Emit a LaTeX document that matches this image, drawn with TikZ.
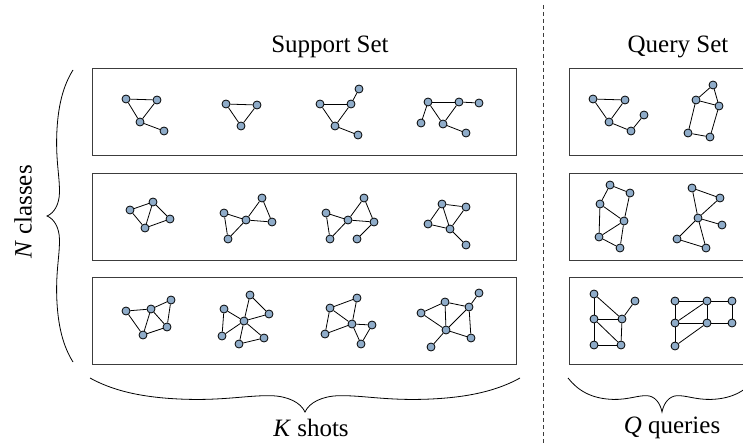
\documentclass[tikz,border=0pt]{standalone}
\usepackage{fontspec}
\setmainfont{Liberation Serif}
\usetikzlibrary{positioning}

\definecolor{vertexblue}{RGB}{143,172,201}
\definecolor{boxgray}{RGB}{60,60,60}

% one curly brace, from (0,0) to (1,0), tip at (0.5,1)
\newcommand{\bracecurve}{(0,0)
    .. controls (0.05,0.35) and (0.12,0.61) .. (0.24,0.63)
    .. controls (0.32,0.64) and (0.37,0.51) .. (0.42,0.52)
    .. controls (0.46,0.53) and (0.49,0.72) .. (0.5,1)
    .. controls (0.51,0.72) and (0.54,0.53) .. (0.58,0.52)
    .. controls (0.63,0.51) and (0.68,0.64) .. (0.76,0.63)
    .. controls (0.88,0.61) and (0.95,0.35) .. (1,0)}

\begin{document}
\begin{tikzpicture}[
    x=1pt, y=-1pt,
    vertex/.style={
        circle, draw=black, fill=vertexblue, line width=0.8pt,
        inner sep=0pt, minimum size=8pt
    },
    edge/.style={black, line width=0.8pt},
    classbox/.style={draw=boxgray, line width=0.9pt},
    caption/.style={font=\fontsize{25}{29}\selectfont, inner sep=0pt},
    bracestroke/.style={black, line width=0.8pt}
    ]
    \useasboundingbox (0,0) rectangle (743,446);
    \clip (0,0) rectangle (743,446);

    % titles
    \node[caption] (support) at (330,47) {Support Set};
    \node[caption] (query) at (678,47) {Query Set};
    \node[caption, rotate=90] (classes) at (23,212) {\textit{N} classes};
    \node[caption] (shots) at (311,428) {\textit{K} shots};
    \node[caption] (queries) at (672,428) {\textit{Q} queries};

    % class boxes
    \foreach \t/\b in {68/155, 173/260, 277/364} {
        \draw[classbox] (92,\t) rectangle (516,\b);
        \draw[classbox] (569,\t) rectangle (756,\b);
    }

    % divider
    \coordinate (divtop) at (543,5);
    \coordinate (divbot) at (543,446);
    \draw[boxgray, line width=0.7pt, dash pattern=on 4pt off 3pt] (divtop) -- (divbot);

    % braces
    \draw[bracestroke, shift={(73,70)}, x={(0pt,-292pt)}, y={(-26pt,0pt)}] \bracecurve;
    \draw[bracestroke, shift={(90,378)}, x={(430pt,0pt)}, y={(0pt,-34pt)}] \bracecurve;
    \draw[bracestroke, shift={(568,378)}, x={(188pt,0pt)}, y={(0pt,-34pt)}] \bracecurve;

    % support set, row 1
    \foreach \n/\x/\y in {a/126/99, b/157/100, c/140/122, d/164/131}
        \node[vertex] (g11\n) at (\x,\y) {};
    \foreach \u/\v in {a/b, a/c, b/c, c/d}
        \draw[edge] (g11\u) -- (g11\v);
    \foreach \n/\x/\y in {a/226/104, b/257/105, c/241/126}
        \node[vertex] (g12\n) at (\x,\y) {};
    \foreach \u/\v in {a/b, a/c, b/c}
        \draw[edge] (g12\u) -- (g12\v);
    \foreach \n/\x/\y in {a/320/104, b/351/104, c/359/89, d/335/126, e/358/135}
        \node[vertex] (g13\n) at (\x,\y) {};
    \foreach \u/\v in {a/b, a/d, b/d, b/c, d/e}
        \draw[edge] (g13\u) -- (g13\v);
    \foreach \n/\x/\y in {a/428/102, b/459/102, c/479/103, d/421/123, e/443/124, f/466/133}
        \node[vertex] (g14\n) at (\x,\y) {};
    \foreach \u/\v in {a/b, b/c, a/d, a/e, b/e, e/f}
        \draw[edge] (g14\u) -- (g14\v);

    % support set, row 2
    \foreach \n/\x/\y in {a/130/210, b/153/202, c/170/219, d/145/228}
        \node[vertex] (g21\n) at (\x,\y) {};
    \foreach \u/\v in {a/b, a/d, b/d, b/c, c/d}
        \draw[edge] (g21\u) -- (g21\v);
    \foreach \n/\x/\y in {a/224/213, b/246/220, c/262/198, d/272/222, e/228/239}
        \node[vertex] (g22\n) at (\x,\y) {};
    \foreach \u/\v in {a/b, a/e, e/b, b/c, c/d, b/d}
        \draw[edge] (g22\u) -- (g22\v);
    \foreach \n/\x/\y in {a/326/213, b/348/220, c/364/198, d/374/222, e/330/239, f/357/239}
        \node[vertex] (g23\n) at (\x,\y) {};
    \foreach \u/\v in {a/b, a/e, e/b, b/c, c/d, b/d, d/f}
        \draw[edge] (g23\u) -- (g23\v);
    \foreach \n/\x/\y in {a/442/204, b/466/207, c/428/224, d/450/229, e/466/245}
        \node[vertex] (g24\n) at (\x,\y) {};
    \foreach \u/\v in {a/b, a/c, a/d, b/d, c/d, d/e}
        \draw[edge] (g24\u) -- (g24\v);

    % support set, row 3
    \foreach \n/\x/\y in {a/126/311, b/151/309, c/171/300, d/167/327, e/143/335}
        \node[vertex] (g31\n) at (\x,\y) {};
    \foreach \u/\v in {a/b, a/e, b/e, b/c, c/d, b/d, d/e}
        \draw[edge] (g31\u) -- (g31\v);
    \foreach \n/\x/\y in {a/244/321, b/250/295, c/269/314, d/224/309, e/222/336, f/239/344, g/264/338}
        \node[vertex] (g32\n) at (\x,\y) {};
    \foreach \u/\v in {a/b, b/c, a/c, a/d, d/e, e/a, a/f, f/g, a/g}
        \draw[edge] (g32\u) -- (g32\v);
    \foreach \n/\x/\y in {a/330/308, b/357/298, c/352/324, d/372/325, e/325/334, f/361/344}
        \node[vertex] (g33\n) at (\x,\y) {};
    \foreach \u/\v in {a/b, b/c, a/c, a/e, e/c, c/d, d/f, c/f}
        \draw[edge] (g33\u) -- (g33\v);
    \foreach \n/\x/\y in {a/421/313, b/445/302, c/469/307, d/479/293, e/446/330, f/471/338, g/431/347}
        \node[vertex] (g34\n) at (\x,\y) {};
    \foreach \u/\v in {a/b, a/e, b/e, b/c, c/d, c/e, c/f, e/f, e/g}
        \draw[edge] (g34\u) -- (g34\v);

    % query set
    \foreach \n/\x/\y in {a/593/99, b/625/100, c/609/122, d/631/131, e/644/115}
        \node[vertex] (q11\n) at (\x,\y) {};
    \foreach \u/\v in {a/b, a/c, b/c, c/d, d/e}
        \draw[edge] (q11\u) -- (q11\v);
    \foreach \n/\x/\y in {a/713/85, b/696/100, c/719/106, d/688/133, e/710/137}
        \node[vertex] (q12\n) at (\x,\y) {};
    \foreach \u/\v in {a/b, a/c, b/c, b/d, c/e, d/e}
        \draw[edge] (q12\u) -- (q12\v);
    \foreach \n/\x/\y in {a/610/185, b/630/193, c/600/204, d/624/221, e/599/237, f/620/248}
        \node[vertex] (q21\n) at (\x,\y) {};
    \foreach \u/\v in {a/b, a/c, b/d, c/d, c/e, e/d, e/f, d/f}
        \draw[edge] (q21\u) -- (q21\v);
    \foreach \n/\x/\y in {a/692/188, b/720/198, c/698/218, d/722/225, e/677/239, f/706/248}
        \node[vertex] (q22\n) at (\x,\y) {};
    \foreach \u/\v in {a/b, a/c, b/c, c/d, c/e, e/f, c/f}
        \draw[edge] (q22\u) -- (q22\v);
    \foreach \n/\x/\y in {a/594/294, b/635/301, c/594/319, d/622/319, e/594/345, f/621/345}
        \node[vertex] (q31\n) at (\x,\y) {};
    \foreach \u/\v in {a/c, a/d, c/d, d/b, c/e, c/f, d/f, e/f}
        \draw[edge] (q31\u) -- (q31\v);
    \foreach \n/\x/\y in {a/675/301, b/707/301, c/732/301, d/675/323, e/707/323, f/732/323, g/675/346}
        \node[vertex] (q32\n) at (\x,\y) {};
    \foreach \u/\v in {a/b, b/c, c/f, a/d, d/b, d/e, e/f, b/e, d/g, g/e}
        \draw[edge] (q32\u) -- (q32\v);
\end{tikzpicture}
\end{document}
